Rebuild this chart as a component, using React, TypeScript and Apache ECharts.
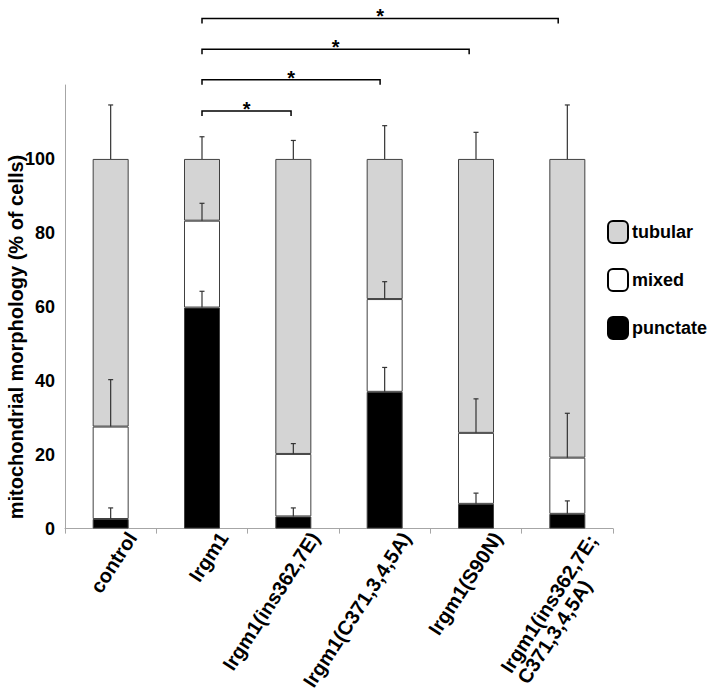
import React, { useEffect, useRef } from "react";
import * as echarts from "echarts";

const categories = [
  "control",
  "Irgm1",
  "Irgm1(ins362,7E)",
  "Irgm1(C371,3,4,5A)",
  "Irgm1(S90N)",
  "Irgm1(ins362,7E;\nC371,3,4,5A)",
];
const punctate = [2.6, 59.8, 3.3, 37.0, 6.7, 4.0];
const mixed = [25.0, 23.5, 16.9, 25.1, 19.2, 15.2];
const tubular = [72.4, 16.7, 79.8, 37.9, 74.1, 80.8];
const punctateErr = [3.0, 4.4, 2.3, 6.6, 2.9, 3.5];
const mixedErr = [12.7, 4.7, 2.8, 4.7, 9.2, 12.0];
const tubularErr = [14.6, 6.0, 5.0, 9.0, 7.2, 14.6];
const yTicks = [0, 20, 40, 60, 80, 100];
// significance brackets: [fromIndex, toIndex, level (axis units)]
const brackets = [
  [1, 2, 113.0],
  [1, 3, 121.4],
  [1, 4, 129.7],
  [1, 5, 138.0],
];
const FONT = "'Liberation Sans', Arial, sans-serif";

export default function App() {
  const ref = useRef<HTMLDivElement>(null);
  useEffect(() => {
    const chart = echarts.init(ref.current!, undefined, { renderer: "svg" });

    const errData: number[][] = [];
    categories.forEach((_, i) => {
      const t1 = punctate[i];
      const t2 = t1 + mixed[i];
      const t3 = t2 + tubular[i];
      errData.push([i, t1, t1 + punctateErr[i]]);
      errData.push([i, t2, t2 + mixedErr[i]]);
      errData.push([i, t3, t3 + tubularErr[i]]);
    });

    const barStyle = (color: string) => ({
      color,
      borderColor: "#404040",
      borderWidth: 1,
    });

    const xData = categories.map((c) =>
      c.indexOf("\n") >= 0 ? { value: c, textStyle: { padding: [80, 0, 0, 0] } } : c
    );

    chart.setOption({
      animation: false,
      textStyle: { fontFamily: FONT },
      grid: { left: 65, right: 98, top: 85, bottom: 164 },
      legend: {
        data: ["tubular", "mixed", "punctate"],
        orient: "vertical",
        left: 602,
        top: 215,
        itemWidth: 20,
        itemHeight: 22,
        itemGap: 24,
        icon: "roundRect",
        itemStyle: { borderColor: "#000", borderWidth: 2 },
        textStyle: { fontFamily: FONT, fontWeight: "bold", fontSize: 18, color: "#000", padding: [0, 0, 0, -1] },
        selectedMode: false,
      },
      xAxis: {
        type: "category",
        data: xData,
        axisLine: { lineStyle: { color: "#a6a6a6", width: 1 } },
        axisTick: { show: true, length: 5, lineStyle: { color: "#a6a6a6" } },
        axisLabel: {
          interval: 0,
          rotate: 57,
          margin: -8.5,
          color: "#000",
          fontFamily: FONT,
          fontWeight: "bold",
          fontSize: 20,
          padding: [51, 0, 0, 0],
          formatter: (v: string) =>
            v.split("\n").map((s) => "{l|" + s + "}").join("\n"),
          rich: {
            l: { align: "left", fontFamily: FONT, fontWeight: "bold", fontSize: 20, color: "#000" },
          },
        },
      },
      yAxis: {
        type: "value",
        min: 0,
        max: 120,
        interval: 20,
        axisLine: { show: true, lineStyle: { color: "#a6a6a6", width: 1 } },
        axisTick: { show: false },
        splitLine: { show: false },
        axisLabel: {
          margin: 10,
          color: "#000",
          fontFamily: FONT,
          fontWeight: "bold",
          fontSize: 18,
          formatter: (v: number) => (yTicks.indexOf(v) >= 0 ? String(v) : ""),
        },
      },
      graphic: [
        {
          type: "text",
          x: 15.5,
          y: 337,
          rotation: Math.PI / 2,
          style: {
            text: "mitochondrial morphology (% of cells)",
            fontFamily: FONT,
            fontWeight: "bold",
            fontSize: 20,
            fill: "#000",
            align: "center",
            verticalAlign: "middle",
          },
        },
      ],
      series: [
        { name: "punctate", type: "bar", stack: "s", barWidth: 36, data: punctate, itemStyle: barStyle("#000") },
        { name: "mixed", type: "bar", stack: "s", barWidth: 36, data: mixed, itemStyle: barStyle("#fff") },
        { name: "tubular", type: "bar", stack: "s", barWidth: 36, data: tubular, itemStyle: barStyle("#d4d4d4") },
        {
          type: "custom",
          name: "err",
          data: errData,
          encode: { x: 0, y: [1, 2] },
          z: 10,
          silent: true,
          renderItem: (params: any, api: any) => {
            const p0 = api.coord([api.value(0), api.value(1)]);
            const p1 = api.coord([api.value(0), api.value(2)]);
            const style = { stroke: "#333", lineWidth: 1.2 };
            return {
              type: "group",
              children: [
                { type: "line", shape: { x1: p0[0], y1: p0[1], x2: p1[0], y2: p1[1] }, style },
                { type: "line", shape: { x1: p1[0] - 2.5, y1: p1[1], x2: p1[0] + 2.5, y2: p1[1] }, style },
              ],
            };
          },
        },
        {
          type: "custom",
          name: "sig",
          data: brackets,
          encode: { x: [0, 1], y: 2 },
          z: 10,
          silent: true,
          clip: false,
          renderItem: (params: any, api: any) => {
            const a = api.coord([api.value(0), api.value(2)]);
            const b = api.coord([api.value(1), api.value(2)]);
            const ex = a[0] + (b[0] - a[0]) * 0.975;
            const y = a[1];
            return {
              type: "group",
              children: [
                {
                  type: "polyline",
                  shape: { points: [[a[0], y + 5], [a[0], y], [ex, y], [ex, y + 5]] },
                  style: { stroke: "#000", lineWidth: 1.5, fill: "none" },
                },
                {
                  type: "text",
                  x: (a[0] + ex) / 2,
                  y: y - 2,
                  style: {
                    text: "*",
                    fontFamily: FONT,
                    fontWeight: "bold",
                    fontSize: 20,
                    fill: "#000",
                    align: "center",
                    verticalAlign: "middle",
                  },
                },
              ],
            };
          },
        },
      ],
    });
    return () => chart.dispose();
  }, []);
  return (
    <div
      ref={ref}
      style={{ position: "fixed", left: 0, top: 0, width: 711, height: 693, background: "#fff" }}
    />
  );
}
